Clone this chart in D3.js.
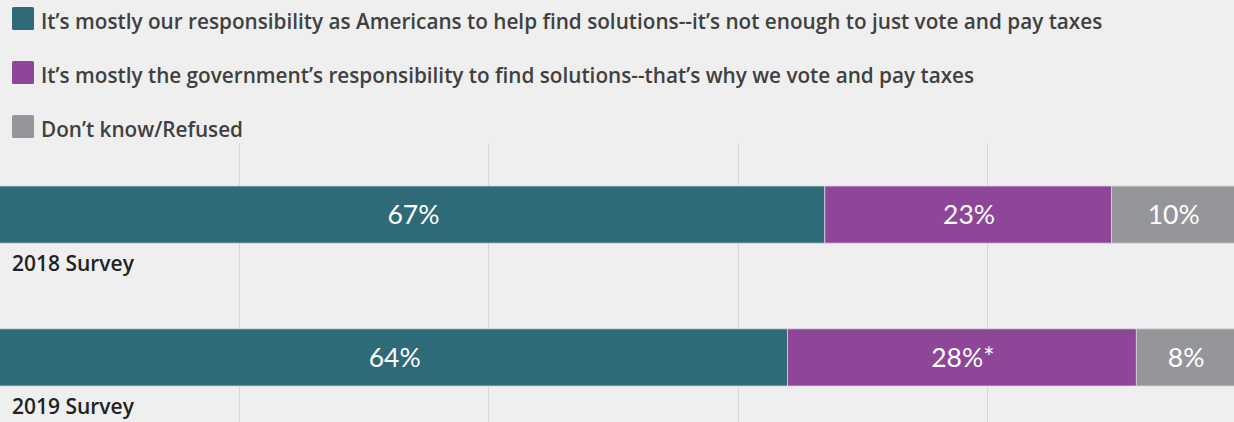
<!DOCTYPE html>
<html>
<head>
<meta charset="utf-8">
<script src="https://cdn.jsdelivr.net/npm/d3@7"></script>
<style>
  html, body { margin: 0; padding: 0; background: #efefef; }
  svg { display: block; }
</style>
</head>
<body>
<script>
// Survey responses, percent of respondents
const surveys = ["2018 Survey", "2019 Survey"];
const seriesNames = [
  "It’s mostly our responsibility as Americans to help find solutions--it’s not enough to just vote and pay taxes",
  "It’s mostly the government’s responsibility to find solutions--that’s why we vote and pay taxes",
  "Don’t know/Refused"
];
const ourResponsibility = [67, 64];
const governmentResponsibility = [23, 28];
const dontKnow = [10, 8];
const valueSuffix = [["", ""], ["", "*"], ["", ""]];
const gridTicks = [20, 40, 60, 80];
const colors = ["#2e6a78", "#8e4698", "#959699"];

const W = 1234, H = 422;
const FONT = "'Open Sans', Lato, sans-serif";
const svg = d3.select("body").append("svg").attr("width", W).attr("height", H);

const x = d3.scaleLinear().domain([0, 100]).range([-10, 1236]);
const y = d3.scaleBand().domain(surveys).range([186, 386]).paddingInner(0.6).paddingOuter(0);

// vertical gridlines
svg.append("g").selectAll("line").data(gridTicks).join("line")
  .attr("x1", d => Math.round(x(d)) + 0.5).attr("x2", d => Math.round(x(d)) + 0.5)
  .attr("y1", 143).attr("y2", H)
  .attr("stroke", "#d8d8d8").attr("stroke-width", 1);

// legend
const legend = svg.append("g");
const legendTexts = [];
seriesNames.forEach((name, i) => {
  const g = legend.append("g").attr("transform", `translate(12,${7 + i * 54})`);
  g.append("rect").attr("width", 22).attr("height", 23).attr("rx", 1.5).attr("fill", colors[i]);
  legendTexts.push(g.append("text").attr("x", 29).attr("y", 22)
    .attr("font-family", FONT).attr("font-weight", 600)
    .attr("font-size", 18).attr("fill", "#404040").text(name));
});
// size legend font so the longest entry spans to x ≈ 1103
const legendSize = 18 * 1062 / legendTexts[0].node().getComputedTextLength();
legendTexts.forEach(t => t.attr("font-size", legendSize));

// stacked bars
const rows = surveys.map((s, i) => [ourResponsibility[i], governmentResponsibility[i], dontKnow[i]]);
const bars = svg.append("g");
const catLabels = [];
rows.forEach((vals, r) => {
  let acc = 0;
  vals.forEach((v, k) => {
    const x0 = x(acc), x1 = x(acc + v);
    acc += v;
    bars.append("rect")
      .attr("x", x0).attr("width", x1 - x0)
      .attr("y", y(surveys[r])).attr("height", y.bandwidth())
      .attr("fill", colors[k]).attr("stroke", "#d9d2dc").attr("stroke-width", 0.8);
    bars.append("text")
      .attr("x", (Math.max(x0, 0) + Math.min(x1, W)) / 2 + 1)
      .attr("y", y(surveys[r]) + y.bandwidth() / 2 + 9.5)
      .attr("text-anchor", "middle")
      .attr("font-family", "Lato, 'Open Sans', sans-serif").attr("font-size", 26.5)
      .attr("fill", "#fff").text(v + "%" + valueSuffix[k][r]);
  });
  catLabels.push(svg.append("text").attr("x", 12).attr("y", y(surveys[r]) + y.bandwidth() + 28)
    .attr("font-family", FONT).attr("font-weight", 600)
    .attr("font-size", 17).attr("fill", "#222").text(surveys[r]));
});
const catSize = 17 * 122 / catLabels[0].node().getComputedTextLength();
catLabels.forEach(t => t.attr("font-size", catSize));
</script>
</body>
</html>
